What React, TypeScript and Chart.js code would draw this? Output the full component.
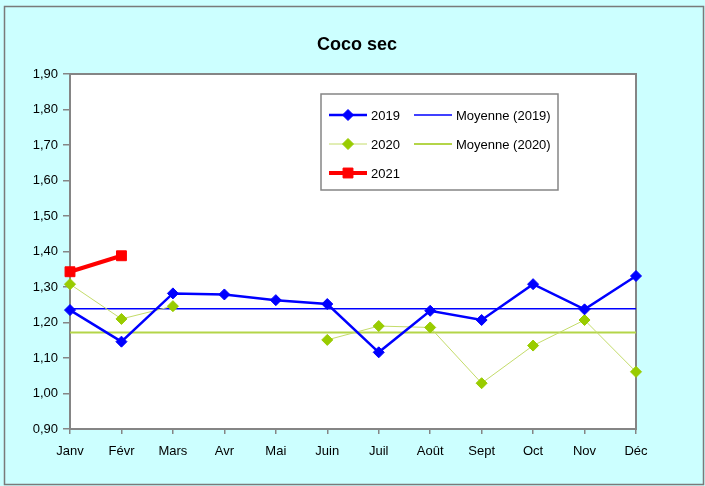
import React, { useEffect, useRef } from 'react';
import { Chart, registerables } from 'chart.js';

Chart.register(...registerables);

const MONTHS = ['Janv', 'Févr', 'Mars', 'Avr', 'Mai', 'Juin', 'Juil', 'Août', 'Sept', 'Oct', 'Nov', 'Déc'];
const SERIES_2019 = [1.235, 1.146, 1.282, 1.279, 1.263, 1.252, 1.116, 1.233, 1.207, 1.308, 1.237, 1.331];
const SERIES_2020 = [1.308, 1.21, 1.246, null, null, 1.151, 1.19, 1.186, 1.029, 1.135, 1.207, 1.061];
const SERIES_2021 = [1.343, 1.388, null, null, null, null, null, null, null, null, null, null];
const MEAN_2019 = 1.239;
const MEAN_2020 = 1.172;
const Y_MIN = 0.9;
const Y_MAX = 1.9;
const Y_STEP = 0.1;

const TITLE = 'Coco sec';
const FONT = '"Liberation Sans", Arial, sans-serif';

const BLUE = '#0000ff';
const GREEN_MARK = '#99cc00';
const GREEN_LINE = '#c4dc6a';
const GREEN_MEAN = '#b4d548';
const RED = '#ff0000';
const GRAY = '#858585';

function drawMarker(ctx: CanvasRenderingContext2D, style: string, x: number, y: number, r: number, color: string) {
  ctx.save();
  ctx.fillStyle = color;
  ctx.strokeStyle = color;
  ctx.lineWidth = 1;
  ctx.beginPath();
  if (style === 'rect') {
    const s = r * Math.SQRT1_2;
    ctx.rect(x - s, y - s, 2 * s, 2 * s);
  } else {
    ctx.moveTo(x - r, y);
    ctx.lineTo(x, y - r);
    ctx.lineTo(x + r, y);
    ctx.lineTo(x, y + r);
    ctx.closePath();
  }
  ctx.fill();
  ctx.stroke();
  ctx.restore();
}

const decorPlugin = {
  id: 'decor',
  beforeDraw(chart: any) {
    const { ctx, width, height, chartArea } = chart;
    ctx.save();
    ctx.fillStyle = '#ccffff';
    ctx.fillRect(0, 0, width, height);
    ctx.strokeStyle = '#7a7a7a';
    ctx.lineWidth = 1.5;
    ctx.strokeRect(4.5, 6.5, width - 6, height - 8);
    ctx.fillStyle = '#ffffff';
    ctx.fillRect(chartArea.left, chartArea.top, chartArea.right - chartArea.left, chartArea.bottom - chartArea.top);
    ctx.restore();
  },
  beforeDatasetsDraw(chart: any) {
    const { ctx, chartArea } = chart;
    ctx.save();
    ctx.strokeStyle = GRAY;
    ctx.lineWidth = 2;
    ctx.strokeRect(chartArea.left, chartArea.top, chartArea.right - chartArea.left, chartArea.bottom - chartArea.top);
    ctx.restore();
  },
  afterDraw(chart: any) {
    const { ctx } = chart;
    ctx.save();
    ctx.fillStyle = '#000';
    ctx.font = `bold 18px ${FONT}`;
    ctx.textAlign = 'center';
    ctx.textBaseline = 'middle';
    ctx.fillText(TITLE, 357, 45);

    const bx = 321, by = 94, bw = 237, bh = 96;
    ctx.fillStyle = '#ffffff';
    ctx.fillRect(bx, by, bw, bh);
    ctx.strokeStyle = GRAY;
    ctx.lineWidth = 1.5;
    ctx.strokeRect(bx, by, bw, bh);

    const slots = [
      [329, 115], [414, 115],
      [329, 144], [414, 144],
      [329, 173],
    ];
    ctx.font = `13px ${FONT}`;
    ctx.textAlign = 'left';
    ctx.textBaseline = 'middle';
    chart.data.datasets.forEach((ds: any, i: number) => {
      const slot = slots[i];
      if (!slot) return;
      const [lx, ly] = slot;
      ctx.strokeStyle = ds.borderColor;
      ctx.lineWidth = ds.borderWidth;
      ctx.beginPath();
      ctx.moveTo(lx, ly);
      ctx.lineTo(lx + 38, ly);
      ctx.stroke();
      if (ds.pointRadius > 0) {
        drawMarker(ctx, ds.pointStyle, lx + 19, ly, ds.pointRadius, ds.pointBackgroundColor);
      }
      ctx.fillStyle = '#000';
      ctx.fillText(ds.label, lx + 42, ly + 1);
    });
    ctx.restore();
  },
};

export default function App() {
  const ref = useRef<HTMLCanvasElement | null>(null);

  useEffect(() => {
    document.body.style.margin = '0';
    const canvas = ref.current;
    if (!canvas) return;
    const chart = new Chart(canvas, {
      type: 'line',
      data: {
        labels: MONTHS,
        datasets: [
          {
            label: '2019',
            data: SERIES_2019,
            borderColor: BLUE,
            borderWidth: 2.5,
            pointStyle: 'rectRot',
            pointRadius: 5.5,
            pointBackgroundColor: BLUE,
            pointBorderColor: BLUE,
            pointBorderWidth: 1,
            clip: false,
            order: 1,
          },
          {
            label: 'Moyenne (2019)',
            data: [{ x: 'Janv', y: MEAN_2019 }, { x: 'Déc', y: MEAN_2019 }],
            borderColor: BLUE,
            borderWidth: 1.5,
            pointRadius: 0,
            clip: false,
            order: 4,
          },
          {
            label: '2020',
            data: SERIES_2020,
            borderColor: GREEN_LINE,
            borderWidth: 1,
            pointStyle: 'rectRot',
            pointRadius: 5.5,
            pointBackgroundColor: GREEN_MARK,
            pointBorderColor: GREEN_MARK,
            pointBorderWidth: 1,
            spanGaps: false,
            clip: false,
            order: 2,
          },
          {
            label: 'Moyenne (2020)',
            data: [{ x: 'Janv', y: MEAN_2020 }, { x: 'Déc', y: MEAN_2020 }],
            borderColor: GREEN_MEAN,
            borderWidth: 2,
            pointRadius: 0,
            clip: false,
            order: 5,
          },
          {
            label: '2021',
            data: SERIES_2021,
            borderColor: RED,
            borderWidth: 4,
            pointStyle: 'rect',
            pointRadius: 7,
            pointBackgroundColor: RED,
            pointBorderColor: RED,
            pointBorderWidth: 1,
            clip: false,
            order: 0,
          },
        ] as any,
      },
      options: {
        responsive: false,
        animation: false,
        events: [],
        layout: { padding: { left: 0, right: 69, top: 74, bottom: 0 } },
        plugins: {
          legend: { display: false },
          title: { display: false },
          tooltip: { enabled: false },
        },
        elements: { line: { tension: 0 } },
        scales: {
          x: {
            type: 'category',
            offset: false,
            afterFit: (s: any) => { s.height = 57; },
            border: { display: false },
            grid: {
              display: true,
              drawOnChartArea: false,
              drawTicks: true,
              tickLength: 5,
              color: GRAY,
              lineWidth: 1.5,
            },
            ticks: {
              autoSkip: false,
              maxRotation: 0,
              padding: 10,
              color: '#000',
              font: { family: FONT, size: 13 },
            },
          },
          y: {
            type: 'linear',
            min: Y_MIN,
            max: Y_MAX,
            afterFit: (s: any) => { s.width = 70; },
            border: { display: false },
            grid: {
              display: true,
              drawOnChartArea: false,
              drawTicks: true,
              tickLength: 7,
              color: GRAY,
              lineWidth: 1.5,
            },
            ticks: {
              stepSize: Y_STEP,
              padding: 5,
              color: '#000',
              font: { family: FONT, size: 13 },
              callback: (v: any) => Number(v).toFixed(2).replace('.', ','),
            },
          },
        },
      } as any,
      plugins: [decorPlugin],
    });
    return () => chart.destroy();
  }, []);

  return <canvas ref={ref} width={705} height={486} style={{ display: 'block' }} />;
}
